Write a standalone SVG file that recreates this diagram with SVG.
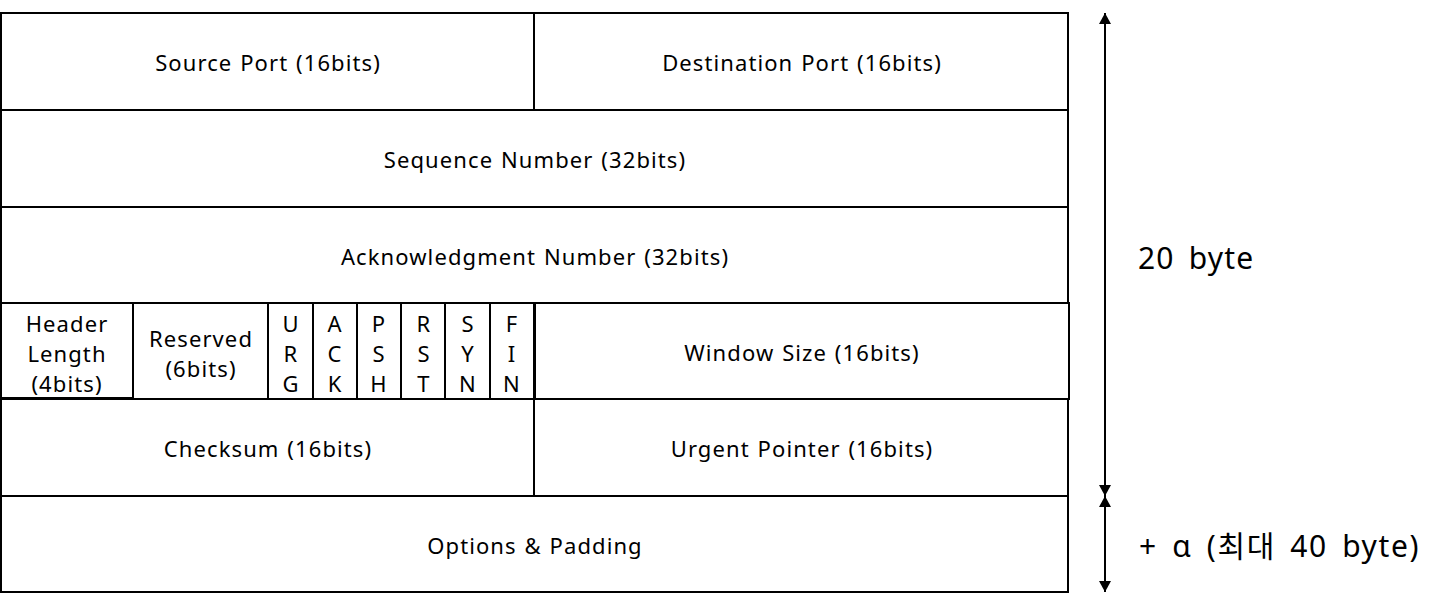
<svg xmlns="http://www.w3.org/2000/svg" width="1439" height="606" viewBox="0 0 1439 606">
<defs>
<style>
.b{fill:#fff;stroke:#000;stroke-width:2}
.t{font-family:"Noto Sans","Noto Sans CJK KR",sans-serif;font-size:22px;fill:#000;text-anchor:middle;dominant-baseline:central;letter-spacing:1.1px;word-spacing:1px}
.big{font-family:"Noto Sans","Noto Sans CJK KR",sans-serif;font-size:30px;fill:#000;dominant-baseline:central;letter-spacing:1.2px;word-spacing:5px}
.wide{letter-spacing:1.6px}
.c{stroke:#000;stroke-width:2;fill:none}
</style>
<marker id="ah" viewBox="0 0 11 12" refX="11" refY="6" markerWidth="11" markerHeight="12" markerUnits="userSpaceOnUse" orient="auto">
<path d="M0,0 L11,6 L0,12 Z" fill="#000"/>
</marker>
</defs>
<rect x="0" y="0" width="1439" height="606" fill="#fff"/>
<g id="source-port"><rect class="b" x="1" y="13" width="533" height="97"/><text class="t" x="268" y="62">Source Port (16bits)</text></g>
<g id="destination-port"><rect class="b" x="534" y="13" width="534" height="97"/><text class="t" x="802" y="62">Destination Port (16bits)</text></g>
<g id="sequence-number"><rect class="b" x="1" y="110" width="1067" height="97"/><text class="t" x="535" y="159">Sequence Number (32bits)</text></g>
<g id="ack-number"><rect class="b" x="1" y="207" width="1067" height="96"/><text class="t" x="535" y="256">Acknowledgment Number (32bits)</text></g>
<g id="header-length"><rect class="b" x="1" y="303" width="132" height="95"/><text class="t" x="67" y="323">Header</text><text class="t" x="67" y="353">Length</text><text class="t" x="67" y="383">(4bits)</text></g>
<g id="reserved"><rect class="b" x="133" y="303" width="135" height="97"/><text class="t" x="201" y="338">Reserved</text><text class="t" x="201" y="368">(6bits)</text></g>
<g id="urg"><rect class="b" x="268" y="303" width="45" height="96"/><text class="t" x="291" y="323">U</text><text class="t" x="291" y="353">R</text><text class="t" x="291" y="383">G</text></g>
<g id="ack"><rect class="b" x="313" y="303" width="44" height="96"/><text class="t" x="335" y="323">A</text><text class="t" x="335" y="353">C</text><text class="t" x="335" y="383">K</text></g>
<g id="psh"><rect class="b" x="357" y="303" width="44" height="96"/><text class="t" x="379" y="323">P</text><text class="t" x="379" y="353">S</text><text class="t" x="379" y="383">H</text></g>
<g id="rst"><rect class="b" x="401" y="303" width="44" height="96"/><text class="t" x="424" y="323">R</text><text class="t" x="424" y="353">S</text><text class="t" x="424" y="383">T</text></g>
<g id="syn"><rect class="b" x="445" y="303" width="45" height="96"/><text class="t" x="468" y="323">S</text><text class="t" x="468" y="353">Y</text><text class="t" x="468" y="383">N</text></g>
<g id="fin"><rect class="b" x="490" y="303" width="44" height="96"/><text class="t" x="512" y="323">F</text><text class="t" x="512" y="353">I</text><text class="t" x="512" y="383">N</text></g>
<g id="window-size"><rect class="b" x="535" y="303" width="534" height="96"/><text class="t" x="802" y="352">Window Size (16bits)</text></g>
<g id="checksum"><rect class="b" x="1" y="399" width="533" height="97"/><text class="t" x="268" y="448">Checksum (16bits)</text></g>
<g id="urgent-pointer"><rect class="b" x="534" y="399" width="534" height="97"/><text class="t" x="802" y="448">Urgent Pointer (16bits)</text></g>
<g id="options"><rect class="b" x="1" y="496" width="1067" height="96"/><text class="t" x="535" y="545">Options &amp; Padding</text></g>
<g id="connectors">
<line class="c" x1="1105" y1="250" x2="1105" y2="13" marker-end="url(#ah)"/>
<line class="c" x1="1105" y1="250" x2="1105" y2="496" marker-end="url(#ah)"/>
<line class="c" x1="1105" y1="545" x2="1105" y2="496" marker-end="url(#ah)"/>
<line class="c" x1="1105" y1="545" x2="1105" y2="592" marker-end="url(#ah)"/>
</g>
<g id="labels">
<text class="big" x="1138" y="257">20 byte</text>
<text class="big wide" x="1139" y="545">+ α (최대 40 byte)</text>
</g>
</svg>
